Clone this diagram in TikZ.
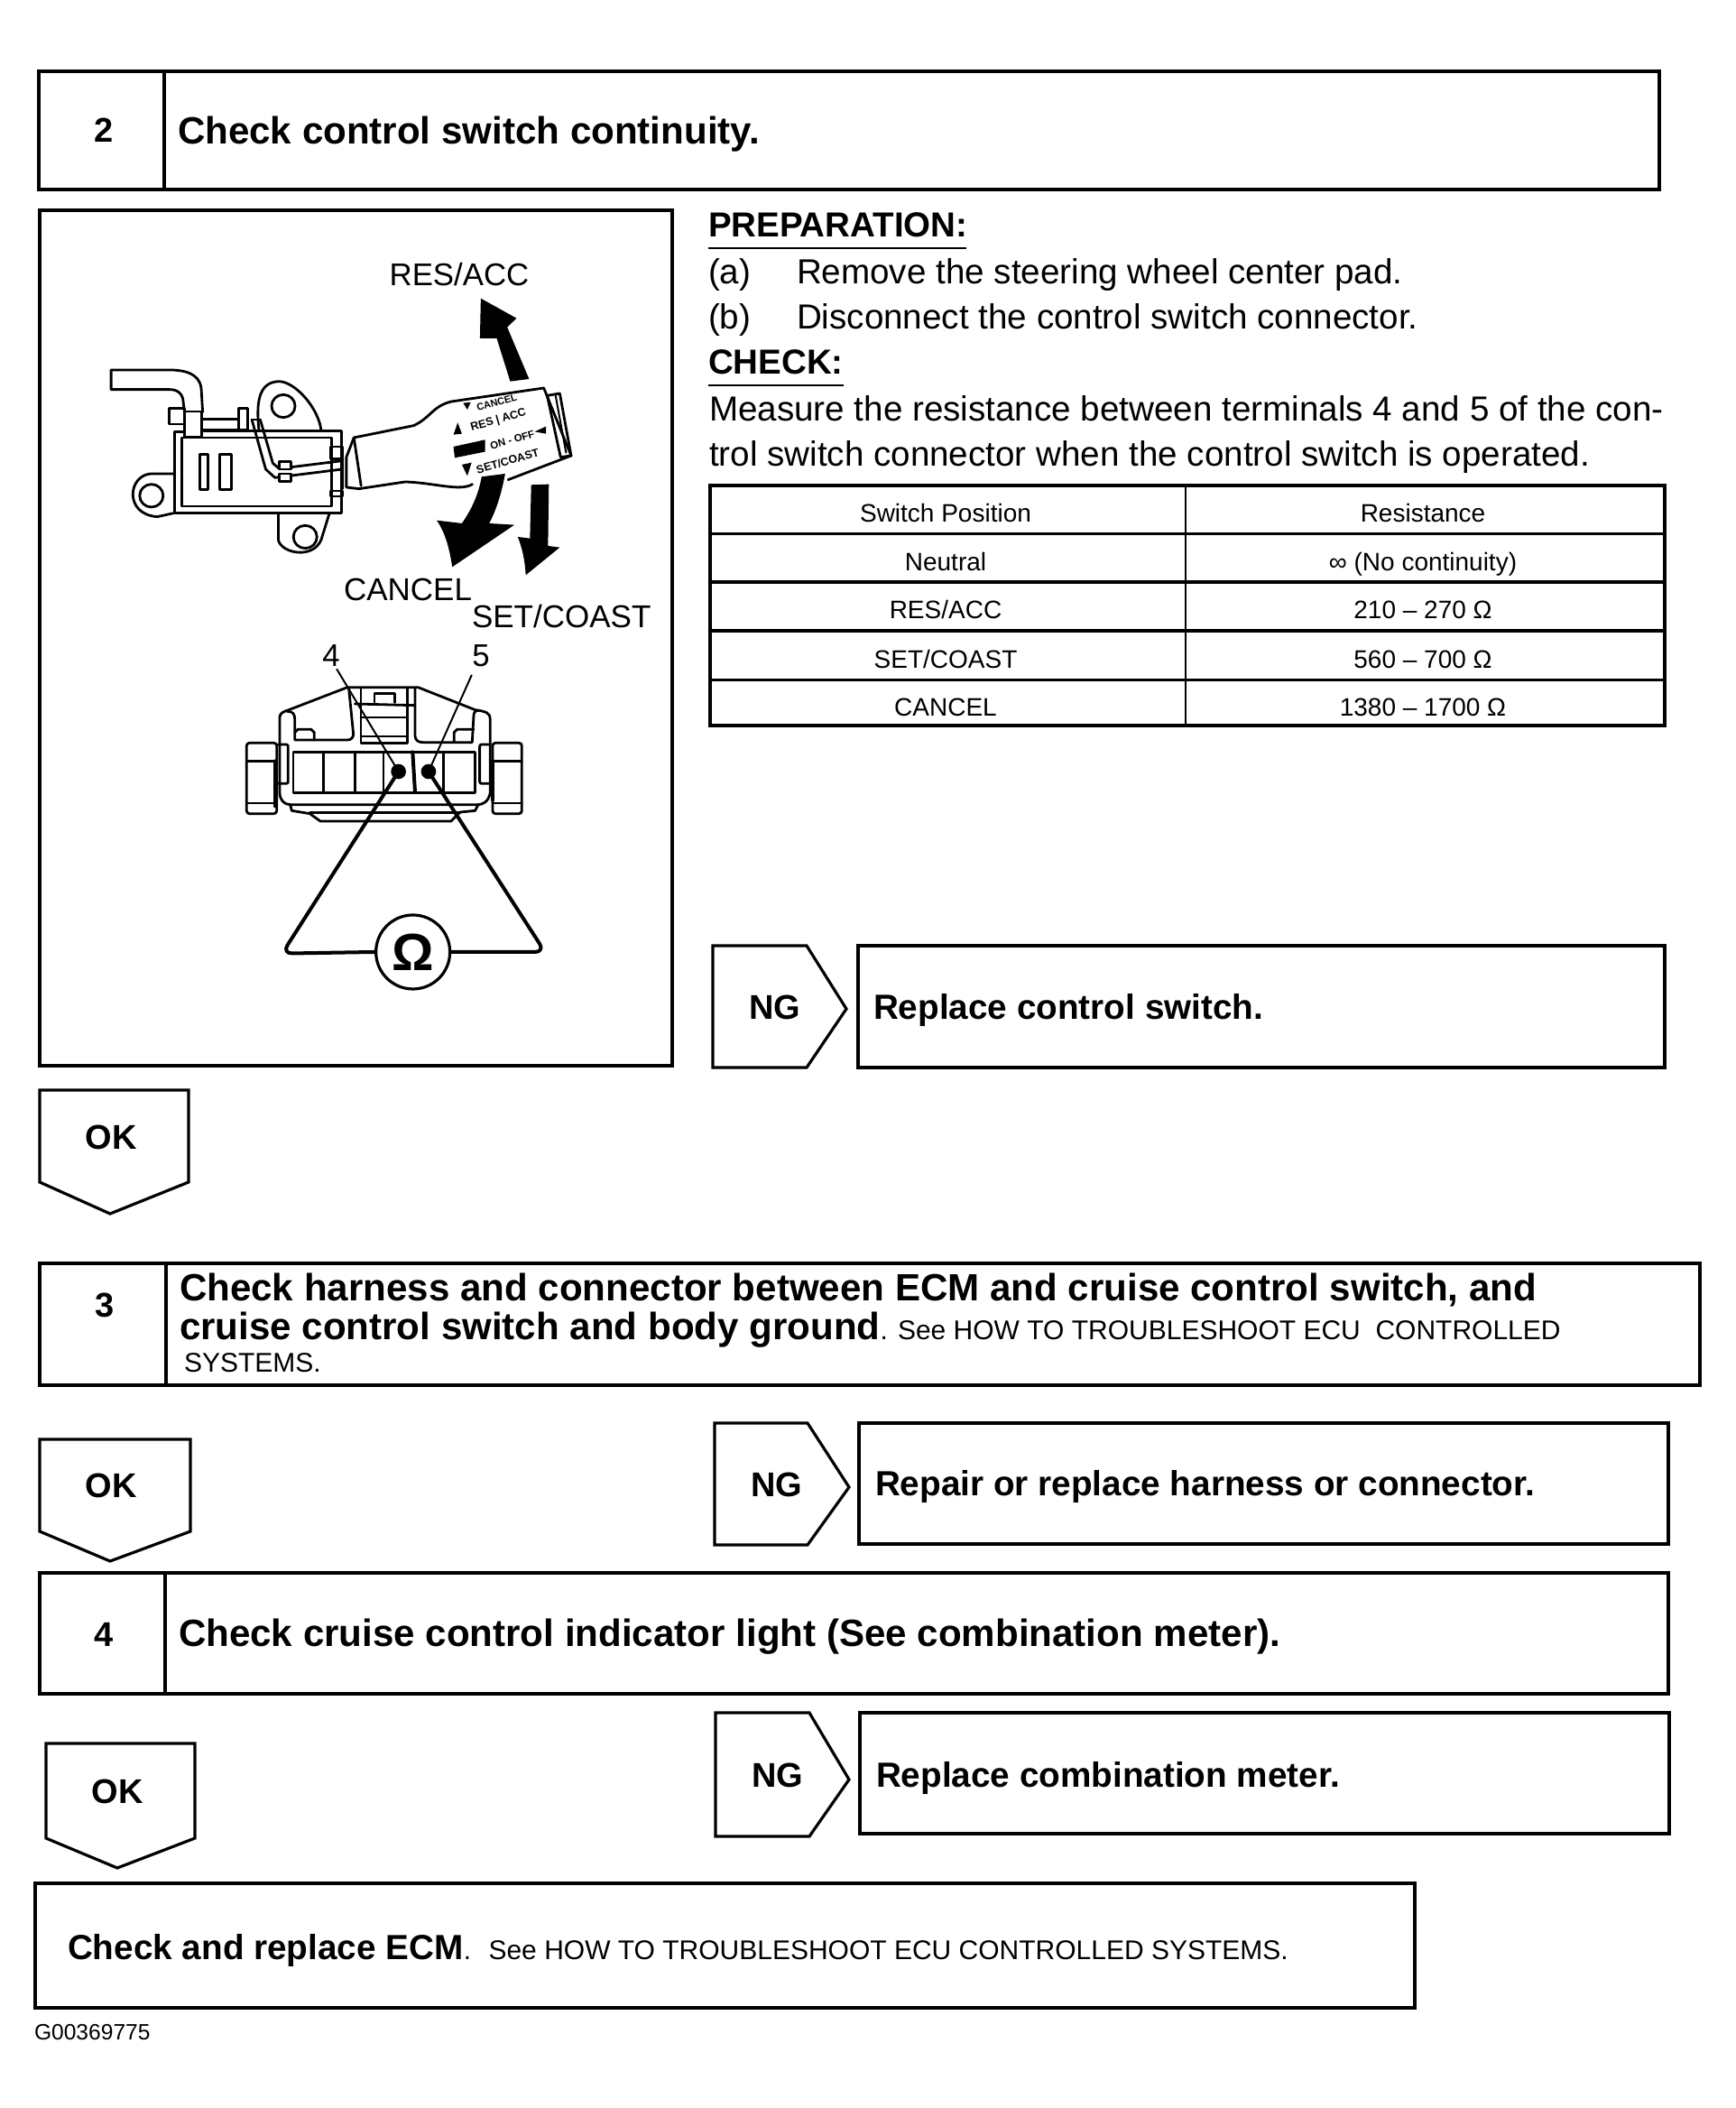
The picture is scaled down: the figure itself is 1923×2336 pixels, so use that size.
\documentclass[tikz,border=0pt]{standalone}
\usepackage{fontspec}
\setmainfont{Liberation Sans}
\newcommand{\fsz}[1]{\fontsize{#1}{#1}\selectfont}
\tikzset{
  frame/.style={draw=black,line width=3.2pt,line join=miter},
  thinframe/.style={draw=black,line width=2.6pt},
  lab/.style={anchor=base west,inner sep=0pt,outer sep=0pt},
  mid/.style={anchor=center,inner sep=0pt,outer sep=0pt},
  midb/.style={anchor=base,inner sep=0pt,outer sep=0pt},
  head/.style={lab,font=\bfseries\fsz{42.1}},
  result/.style={lab,font=\bfseries\fsz{38.7}},
  bignum/.style={mid,font=\bfseries\fsz{38}},
  body/.style={lab,font=\fsz{38.6}},
  cell/.style={midb,font=\fsz{28}},
  tag/.style={midb,font=\fsz{34.8}},
  ill/.style={draw=black,line width=2.8pt,line join=round,line cap=round},
  illt/.style={draw=black,line width=2pt,line join=round,line cap=round},
  probe/.style={draw=black,line width=4pt,line join=round,line cap=round},
  stalk/.style={mid,rotate=16,font=\bfseries\fsz{12.5}},
}
\begin{document}
\begin{tikzpicture}[x=1pt,y=-1pt]
\useasboundingbox (0,0) rectangle (1923,2336);
\fill[white] (0,0) rectangle (1923,2336);

% ---- step 2
\draw[frame] (43,79) rectangle (1839,210);
\draw[frame] (182,79) -- (182,210);
\node[bignum] (n2) at (115,144) {2};
\node[head] (t2) at (197,159.5) {Check control switch continuity.};

% ---- illustration panel
\draw[frame] (44,233) rectangle (745,1181);

% switch, in the coordinates of the crop
\begin{scope}[shift={(30,230)},xscale=0.4656,yscale=0.3333]
  % pipe
  \draw[ill] (200,605) -- (200,540) -- (340,540) .. controls (395,540) and (415,570) .. (415,610) -- (418,680);
  \draw[ill] (200,605) -- (340,605) .. controls (362,605) and (372,625) .. (372,650) -- (375,680);
  \draw[ill] (338,668) -- (375,668) -- (375,720) -- (338,720) -- cycle;
  \draw[ill] (375,678) rectangle (415,762);
  \draw[ill] (415,703) -- (500,703);
  \draw[ill] (415,738) -- (500,738);
  \draw[ill] (503,668) rectangle (525,738);
  % body
  \draw[ill] (420,742) -- (748,742) -- (748,1015) -- (352,1015) -- (352,745) -- (375,745);
  \draw[ill] (368,765) -- (368,993) -- (725,993) -- (725,765) -- cycle;
  \draw[ill] (412,820) rectangle (430,938);
  \draw[ill] (458,820) rectangle (487,938);
  % ears
  \draw[ill] (552,742) .. controls (545,650) and (550,580) .. (600,578) .. controls (640,580) and (695,670) .. (700,742);
  \draw[ill] (610,660) ellipse [x radius=28,y radius=38];
  \draw[ill] (352,885) -- (295,885) .. controls (240,890) and (230,1020) .. (310,1028) -- (352,1015);
  \draw[ill] (296,958) ellipse [x radius=28,y radius=38];
  \draw[ill] (598,1015) -- (598,1105) .. controls (605,1150) and (680,1170) .. (700,1105) -- (720,1015);
  \draw[ill] (662,1095) ellipse [x radius=28,y radius=38];
  % wire
  \draw[ill] (535,705) -- (568,870) -- (590,898) -- (750,870);
  \draw[ill] (555,705) -- (585,850) -- (600,868) -- (750,842);
  \draw[ill] (535,705) -- (555,705);
  \draw[ill,fill=white] (600,845) rectangle (628,870);
  \draw[ill,fill=white] (600,885) rectangle (628,910);
  \draw[ill] (722,795) rectangle (750,835);
  \draw[ill] (722,942) rectangle (750,960);
  \draw[ill] (750,830) -- (750,935);
  % stalk
  \draw[ill] (1060,920) .. controls (1030,945) and (970,915) .. (900,912) -- (790,935) -- (760,930) -- (760,830) -- (778,765)
     -- (920,725) .. controls (960,700) and (965,660) .. (1010,645) -- (1230,600) -- (1295,825) -- (1145,905);
  \draw[ill] (778,765) -- (795,925);
  \draw[ill] (1238,625) -- (1268,618) -- (1295,825) -- (1270,830) -- cycle;
  \draw[illt] (1258,625) -- (1283,815);
  % stalk lettering
  \fill[black] (1038,650) -- (1056,647) -- (1048,672) -- cycle;
  \node[stalk,font=\bfseries\fsz{11}] (s1) at (1118,648) {CANCEL};
  \fill[black] (1025,715) -- (1035,752) -- (1015,755) -- cycle;
  \node[stalk] (s2) at (1122,708) {RES | ACC};
  \node[stalk,font=\bfseries\fsz{11.5}] (s3) at (1155,773) {ON - OFF};
  \fill[black] (1235,728) -- (1235,752) -- (1208,745) -- cycle;
  \fill[black] (1015,795) -- (1090,772) -- (1090,812) -- (1018,832) -- cycle;
  \fill[black] (1035,855) -- (1058,848) -- (1048,892) -- cycle;
  \node[stalk] (s4) at (1144,843) {SET/COAST};
  % movement arrows
  \fill[black] (1080,302) -- (1165,368) -- (1143,398) -- (1195,570) -- (1150,578) -- (1118,435) -- (1078,435) -- cycle;
  \fill[black] (1082,895) -- (1138,885) .. controls (1128,960) and (1115,1010) .. (1100,1050) -- (1160,1055) -- (1012,1195) .. controls (1005,1130) and (995,1080) .. (975,1040) -- (1035,1050) .. controls (1060,1000) and (1075,950) .. (1082,895) -- cycle;
  \fill[black] (1200,922) -- (1242,920) -- (1240,1125) -- (1268,1130) -- (1187,1222) .. controls (1185,1170) and (1178,1130) .. (1168,1095) -- (1197,1100) -- cycle;
\end{scope}

\node[tag] (lres) at (509,316) {RES/ACC};
\node[lab,font=\fsz{35}] (lcan) at (381,665) {CANCEL};
\node[lab,font=\fsz{35}] (lset) at (523,695) {SET/COAST};
\node[tag] (l4) at (367,738) {4};
\node[tag] (l5) at (533,738) {5};

% connector, in crop coordinates
\begin{scope}[shift={(230,680)},scale=0.3333]
  \draw[ill] (240,345) .. controls (240,330) and (255,325) .. (265,322) -- (465,245) -- (700,245) -- (890,320) .. controls (925,325) and (940,330) .. (940,350)
     -- (940,595) .. controls (935,625) and (915,635) .. (900,635) -- (275,635) .. controls (255,635) and (240,620) .. (240,595) -- cycle;
  \draw[ill] (275,635) -- (280,655) -- (340,665) -- (375,690) -- (810,690) -- (840,660) -- (890,655) -- (900,635);
  \draw[ill] (340,662) -- (840,662);
  \draw[ill] (265,325) .. controls (285,325) and (290,335) .. (290,350) -- (290,420) -- (465,420) .. controls (480,420) and (485,410) .. (485,400) -- (470,250);
  \draw[ill] (290,395) -- (300,385) -- (345,385) -- (355,395) -- (355,420);
  \draw[ill] (510,250) -- (510,430) -- (665,430) -- (665,250);
  \draw[ill] (490,300) -- (690,305);
  \draw[ill] (555,295) -- (555,265) -- (622,265) -- (622,295);
  \draw[ill] (510,345) -- (665,345);
  \draw[ill] (510,408) -- (665,408);
  \draw[ill] (690,250) -- (690,405) .. controls (690,420) and (700,428) .. (715,428) -- (880,428) -- (885,340) .. controls (885,330) and (890,322) .. (900,322);
  \draw[ill] (820,428) -- (820,395) -- (830,385) -- (885,385);
  \draw[ill] (285,460) rectangle (890,595);
  \draw[ill] (385,460) -- (385,595);
  \draw[ill] (490,460) -- (490,595);
  \draw[ill] (585,460) -- (585,595);
  \draw[ill] (785,460) -- (785,595);
  \draw[probe] (682,460) -- (690,592);
  % side latches
  \draw[ill,rounded corners=3pt] (130,430) rectangle (230,665);
  \draw[ill] (130,490) -- (230,490);
  \draw[ill] (130,630) -- (230,630);
  \draw[probe] (225,490) -- (225,640);
  \draw[ill,rounded corners=2pt] (235,435) -- (268,435) -- (268,565) -- (235,565);
  \draw[ill,rounded corners=3pt] (948,430) rectangle (1045,665);
  \draw[ill] (948,490) -- (1045,490);
  \draw[ill] (948,630) -- (1045,630);
  \draw[probe] (948,490) -- (948,620);
  \draw[ill,rounded corners=2pt] (940,435) -- (905,435) -- (905,565) -- (940,565);
  % terminals, leaders, meter
  \coordinate (pin4) at (635,525);
  \coordinate (pin5) at (735,525);
  \fill[black] (pin4) circle (25);
  \fill[black] (pin5) circle (25);
  \coordinate (lead4) at (430,185);
  \coordinate (lead5) at (878,205);
  \draw[illt] (lead4) -- (pin4);
  \draw[illt] (lead5) -- (pin5);
  \node[draw=black,line width=3.2pt,circle,minimum size=82pt,inner sep=0pt,font=\bfseries\fsz{58}] (meter) at (683,1125) {Ω};
  \draw[probe,rounded corners=11pt] (pin4) -- (248,1130) -- (meter.west);
  \draw[probe,rounded corners=11pt] (pin5) -- (1122,1125) -- (meter.east);
\end{scope}

% ---- preparation text
\node[lab,font=\bfseries\fsz{38.5}] (prep) at (785,262) {PREPARATION:};
\draw[line width=1.6pt] (785,275) -- (1071,275);
\node[body] (a1) at (785,314.5) {(a)};
\node[body] (a2) at (883,314.5) {Remove the steering wheel center pad.};
\node[body] (b1) at (785,364) {(b)};
\node[body] (b2) at (883,364) {Disconnect the control switch connector.};
\node[lab,font=\bfseries\fsz{38.5}] (chk) at (785,414.5) {CHECK:};
\draw[line width=1.6pt] (785,427) -- (935,427);
\node[body] (m1) at (786,466) {Measure the resistance between terminals 4 and 5 of the con-};
\node[body] (m2) at (786,516.5) {trol switch connector when the control switch is operated.};

% ---- table
\draw[frame] (787,538) rectangle (1845,804);
\draw[frame] (787,591.5) -- (1845,591.5);
\draw[frame] (787,645) -- (1845,645);
\draw[frame] (787,699) -- (1845,699);
\draw[frame] (787,753.5) -- (1845,753.5);
\draw[thinframe] (1314,538) -- (1314,804);
\node[cell] (c11) at (1048,578) {Switch Position};
\node[cell] (c12) at (1577,578) {Resistance};
\node[cell] (c21) at (1048,632) {Neutral};
\node[cell] (c22) at (1577,632) {∞ (No continuity)};
\node[cell] (c31) at (1048,685.5) {RES/ACC};
\node[cell] (c32) at (1577,685.5) {210 – 270 Ω};
\node[cell] (c41) at (1048,740) {SET/COAST};
\node[cell] (c42) at (1577,740) {560 – 700 Ω};
\node[cell] (c51) at (1048,793) {CANCEL};
\node[cell] (c52) at (1577,793) {1380 – 1700 Ω};

% ---- NG 1 / OK 1
\draw[frame] (790,1048) -- (894,1048) -- (938,1118) -- (894,1183) -- (790,1183) -- cycle;
\node[bignum] (ng1) at (859,1116) {NG};
\draw[frame] (951,1048) rectangle (1845,1183);
\node[result] (r1) at (968,1129) {Replace control switch.};
\draw[frame] (44,1208) -- (209,1208) -- (209,1310) -- (122,1345) -- (44,1310) -- cycle;
\node[bignum] (ok1) at (123,1260) {OK};

% ---- step 3
\draw[frame] (44,1400) rectangle (1884,1535);
\draw[frame] (184,1400) -- (184,1535);
\node[bignum] (n3) at (116,1446) {3};
\node[head] (t3a) at (199,1441) {Check harness and connector between ECM and cruise control switch, and};
\node[head] (t3b) at (199,1484) {cruise control switch and body ground};
\node[lab,font=\fsz{30}] (t3c) at (t3b.base east) {. See HOW TO TROUBLESHOOT ECU~ CONTROLLED};
\node[lab,font=\fsz{30}] (t3d) at (204,1520) {SYSTEMS.};

% ---- OK 2 / NG 2
\draw[frame] (44,1595) -- (211,1595) -- (211,1697) -- (122,1730) -- (44,1697) -- cycle;
\node[bignum] (ok2) at (123,1646) {OK};
\draw[frame] (792,1577) -- (895,1577) -- (941,1648) -- (895,1712) -- (792,1712) -- cycle;
\node[bignum] (ng2) at (861,1645) {NG};
\draw[frame] (952,1577) rectangle (1849,1711);
\node[result] (r2) at (970,1657) {Repair or replace harness or connector.};

% ---- step 4
\draw[frame] (44,1743) rectangle (1849,1877);
\draw[frame] (183,1743) -- (183,1877);
\node[bignum] (n4) at (115,1811) {4};
\node[head] (t4) at (198,1824.5) {Check cruise control indicator light (See combination meter).};

% ---- OK 3 / NG 3
\draw[frame] (51,1932) -- (216,1932) -- (216,2037) -- (130,2070) -- (51,2037) -- cycle;
\node[bignum] (ok3) at (130,1985) {OK};
\draw[frame] (793,1898) -- (897,1898) -- (941,1972) -- (897,2035) -- (793,2035) -- cycle;
\node[bignum] (ng3) at (862,1967) {NG};
\draw[frame] (953,1898) rectangle (1850,2032);
\node[result] (r3) at (971,1980) {Replace combination meter.};

% ---- final
\draw[frame] (39,2087) rectangle (1568,2225);
\node[result] (f1) at (75,2171) {Check and replace ECM};
\node[lab,font=\fsz{30}] (f2) at (f1.base east) {.~ See HOW TO TROUBLESHOOT ECU CONTROLLED SYSTEMS.};
\node[lab,font=\fsz{24.6}] (code) at (38,2260) {G00369775};
\end{tikzpicture}
\end{document}
